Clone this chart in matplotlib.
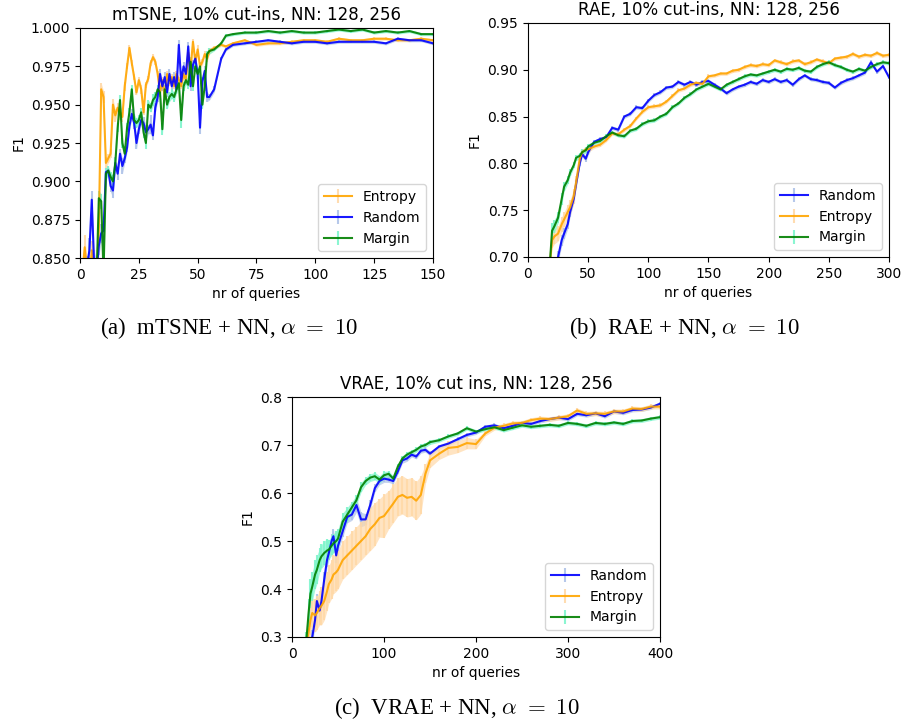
import numpy as np
import matplotlib
matplotlib.use('Agg')
import matplotlib.pyplot as plt

# ---- panel (a): mTSNE ----
x_a = list(range(1, 56)) + [57, 60, 62, 65, 70, 75, 80, 85, 90, 95, 100, 105, 110, 115, 120, 125, 130, 135, 140, 145, 150]
entropy_a = [0.840, 0.857, 0.842, 0.835, 0.855, 0.830, 0.835, 0.870, 0.960, 0.955,
             0.912, 0.915, 0.918, 0.950, 0.943, 0.948, 0.945, 0.942, 0.962, 0.975,
             0.987, 0.977, 0.968, 0.958, 0.966, 0.960, 0.945, 0.963, 0.967, 0.977,
             0.981, 0.978, 0.970, 0.958, 0.966, 0.955, 0.970, 0.964, 0.968, 0.962,
             0.970, 0.966, 0.962, 0.970, 0.966, 0.984, 0.974, 0.991, 0.978, 0.986,
             0.975, 0.978, 0.983, 0.980, 0.985,
             0.987, 0.989, 0.988, 0.990, 0.992, 0.989, 0.990, 0.990, 0.991, 0.992, 0.992,
             0.991, 0.993, 0.992, 0.992, 0.993, 0.993, 0.992, 0.992, 0.993, 0.992]
random_a = [0.835, 0.840, 0.845, 0.855, 0.888, 0.845, 0.840, 0.858, 0.866, 0.868,
            0.906, 0.907, 0.897, 0.894, 0.912, 0.905, 0.918, 0.910, 0.915, 0.922,
            0.936, 0.944, 0.938, 0.925, 0.934, 0.940, 0.938, 0.932, 0.934, 0.937,
            0.930, 0.948, 0.955, 0.970, 0.962, 0.968, 0.958, 0.970, 0.962, 0.968,
            0.960, 0.989, 0.965, 0.975, 0.970, 0.988, 0.962, 0.976, 0.980, 0.970,
            0.935, 0.965, 0.972, 0.955, 0.955,
            0.960, 0.980, 0.986, 0.989, 0.990, 0.991, 0.992, 0.991, 0.990, 0.991, 0.991,
            0.990, 0.991, 0.991, 0.991, 0.991, 0.990, 0.993, 0.992, 0.992, 0.990]
margin_a = [0.830, 0.835, 0.830, 0.835, 0.840, 0.830, 0.835, 0.889, 0.887, 0.840,
            0.905, 0.907, 0.903, 0.900, 0.912, 0.935, 0.953, 0.925, 0.918, 0.935,
            0.945, 0.960, 0.940, 0.938, 0.940, 0.945, 0.932, 0.925, 0.950, 0.948,
            0.953, 0.955, 0.960, 0.958, 0.934, 0.960, 0.950, 0.955, 0.957, 0.955,
            0.960, 0.964, 0.940, 0.962, 0.966, 0.963, 0.978, 0.962, 0.975, 0.970,
            0.975, 0.950, 0.962, 0.983, 0.985,
            0.986, 0.990, 0.995, 0.996, 0.997, 0.997, 0.998, 0.997, 0.998, 0.997, 0.997,
            0.998, 0.999, 0.998, 0.999, 0.997, 0.998, 0.997, 0.998, 0.996, 0.996]
entropy_a_err = [0.008, 0.008, 0.006, 0.006, 0.006, 0.006, 0.006, 0.010, 0.004, 0.004,
                 0.004, 0.003, 0.003, 0.004, 0.004, 0.003, 0.005, 0.003, 0.003, 0.002,
                 0.002, 0.002, 0.002, 0.002, 0.002, 0.003, 0.002, 0.002, 0.002, 0.002,
                 0.002, 0.002, 0.002, 0.002, 0.002, 0.002, 0.002, 0.002, 0.002, 0.002,
                 0.002, 0.002, 0.002, 0.002, 0.003, 0.002, 0.004, 0.002, 0.002, 0.003,
                 0.002, 0.002, 0.002, 0.002, 0.002,
                 0.001, 0.001, 0.001, 0.001, 0.001, 0.001, 0.001, 0.001, 0.001, 0.001, 0.001,
                 0.001, 0.001, 0.001, 0.001, 0.001, 0.001, 0.001, 0.001, 0.001, 0.001]
random_a_err = [0.006, 0.006, 0.006, 0.008, 0.006, 0.010, 0.008, 0.006, 0.006, 0.006,
                0.003, 0.003, 0.004, 0.005, 0.004, 0.004, 0.003, 0.005, 0.003, 0.003,
                0.003, 0.003, 0.004, 0.004, 0.003, 0.003, 0.004, 0.005, 0.003, 0.006,
                0.003, 0.003, 0.003, 0.003, 0.003, 0.003, 0.003, 0.003, 0.003, 0.003,
                0.003, 0.003, 0.003, 0.003, 0.003, 0.003, 0.003, 0.003, 0.003, 0.003,
                0.004, 0.003, 0.003, 0.003, 0.002,
                0.002, 0.001, 0.001, 0.001, 0.001, 0.001, 0.001, 0.001, 0.001, 0.001, 0.001,
                0.001, 0.001, 0.001, 0.001, 0.001, 0.001, 0.001, 0.001, 0.001, 0.001]
margin_a_err = [0.006, 0.006, 0.006, 0.006, 0.006, 0.006, 0.006, 0.005, 0.005, 0.008,
                0.004, 0.003, 0.003, 0.004, 0.003, 0.003, 0.003, 0.003, 0.003, 0.003,
                0.003, 0.003, 0.004, 0.003, 0.003, 0.003, 0.004, 0.004, 0.003, 0.003,
                0.004, 0.003, 0.003, 0.003, 0.004, 0.003, 0.003, 0.003, 0.003, 0.003,
                0.003, 0.003, 0.005, 0.003, 0.003, 0.003, 0.003, 0.003, 0.003, 0.003,
                0.003, 0.003, 0.003, 0.002, 0.002,
                0.001, 0.001, 0.001, 0.001, 0.001, 0.001, 0.001, 0.001, 0.001, 0.001, 0.001,
                0.001, 0.001, 0.001, 0.001, 0.001, 0.001, 0.001, 0.001, 0.001, 0.001]

# ---- panel (b): RAE ----
x_b = [18, 20, 22, 25, 28, 30, 33, 35, 38, 40, 43, 45, 48, 50] + list(range(55, 301, 5))
random_b = [0.650, 0.670, 0.680, 0.700, 0.718, 0.725, 0.735, 0.748, 0.762, 0.778, 0.800, 0.810, 0.805, 0.812,
            0.823, 0.826, 0.828, 0.838, 0.836, 0.850, 0.853, 0.860, 0.859, 0.867,
            0.873, 0.876, 0.881, 0.882, 0.887, 0.884, 0.887, 0.884, 0.887, 0.888,
            0.884, 0.880, 0.875, 0.879, 0.882, 0.884, 0.887, 0.885, 0.889, 0.887,
            0.890, 0.887, 0.889, 0.884, 0.890, 0.894, 0.890, 0.889, 0.887, 0.886,
            0.881, 0.886, 0.889, 0.891, 0.894, 0.897, 0.908, 0.898, 0.904, 0.892]
entropy_b = [0.690, 0.718, 0.722, 0.725, 0.735, 0.740, 0.748, 0.753, 0.765, 0.780, 0.805, 0.812, 0.815, 0.815,
             0.818, 0.820, 0.825, 0.832, 0.831, 0.836, 0.840, 0.848, 0.855, 0.860,
             0.861, 0.862, 0.866, 0.872, 0.878, 0.880, 0.884, 0.886, 0.885, 0.893,
             0.894, 0.896, 0.896, 0.899, 0.900, 0.903, 0.905, 0.904, 0.906, 0.905,
             0.910, 0.908, 0.906, 0.909, 0.910, 0.906, 0.908, 0.911, 0.909, 0.907,
             0.912, 0.913, 0.914, 0.917, 0.914, 0.916, 0.915, 0.918, 0.915, 0.916]
margin_b = [0.690, 0.728, 0.733, 0.742, 0.762, 0.775, 0.782, 0.790, 0.798, 0.806, 0.808, 0.812, 0.814, 0.818,
            0.822, 0.824, 0.829, 0.833, 0.830, 0.829, 0.835, 0.837, 0.842, 0.845,
            0.846, 0.850, 0.853, 0.860, 0.864, 0.870, 0.874, 0.879, 0.882, 0.885,
            0.882, 0.879, 0.884, 0.887, 0.890, 0.893, 0.895, 0.894, 0.896, 0.898,
            0.900, 0.898, 0.901, 0.900, 0.902, 0.899, 0.898, 0.903, 0.906, 0.908,
            0.905, 0.903, 0.900, 0.898, 0.901, 0.899, 0.903, 0.906, 0.908, 0.907]
random_b_err = [0.006, 0.006, 0.006, 0.006, 0.006, 0.006, 0.005, 0.005, 0.004, 0.004, 0.003, 0.003, 0.003, 0.003] + [0.002] * 50
entropy_b_err = [0.008, 0.008, 0.008, 0.008, 0.008, 0.008, 0.008, 0.008, 0.008, 0.006, 0.004, 0.003, 0.003, 0.003] + [0.002] * 50
margin_b_err = [0.008, 0.008, 0.007, 0.006, 0.006, 0.005, 0.004, 0.004, 0.003, 0.003, 0.003, 0.003, 0.003, 0.003] + [0.002] * 50

# ---- panel (c): VRAE ----
x_c = [15, 18, 20, 22, 25, 27, 30, 32, 35, 38, 40, 43, 45, 48, 50] + list(range(55, 151, 5)) + list(range(160, 401, 10))
random_c = [0.250, 0.270, 0.280, 0.300, 0.335, 0.375, 0.355, 0.375, 0.420, 0.460, 0.475, 0.500, 0.510, 0.470, 0.490,
            0.520, 0.550, 0.555, 0.575, 0.545, 0.545, 0.575, 0.610, 0.625, 0.630,
            0.628, 0.625, 0.645, 0.668, 0.672, 0.680, 0.676, 0.688, 0.690, 0.682,
            0.697, 0.703, 0.712, 0.721, 0.726, 0.738, 0.741, 0.735, 0.740, 0.746,
            0.744, 0.750, 0.754, 0.757, 0.754, 0.765, 0.762, 0.766, 0.760, 0.770,
            0.767, 0.773, 0.774, 0.778, 0.786]
entropy_c = [0.280, 0.310, 0.335, 0.350, 0.345, 0.350, 0.360, 0.365, 0.375, 0.395, 0.410, 0.420, 0.430, 0.435, 0.440,
             0.460, 0.470, 0.480, 0.490, 0.500, 0.510, 0.525, 0.535, 0.548, 0.552,
             0.565, 0.578, 0.592, 0.596, 0.590, 0.592, 0.584, 0.596, 0.640, 0.668,
             0.682, 0.694, 0.696, 0.704, 0.702, 0.724, 0.736, 0.740, 0.745, 0.746,
             0.752, 0.755, 0.754, 0.757, 0.760, 0.772, 0.765, 0.766, 0.765, 0.770,
             0.770, 0.776, 0.775, 0.780, 0.780]
margin_c = [0.280, 0.350, 0.390, 0.405, 0.430, 0.440, 0.460, 0.468, 0.475, 0.480, 0.482, 0.490, 0.495, 0.500, 0.505,
            0.540, 0.555, 0.570, 0.585, 0.612, 0.625, 0.632, 0.635, 0.628, 0.637,
            0.640, 0.630, 0.655, 0.672, 0.680, 0.685, 0.690, 0.697, 0.700, 0.706,
            0.710, 0.718, 0.724, 0.735, 0.728, 0.733, 0.737, 0.731, 0.736, 0.741,
            0.738, 0.740, 0.742, 0.740, 0.746, 0.744, 0.740, 0.746, 0.744, 0.747,
            0.744, 0.750, 0.751, 0.755, 0.758]
random_c_err = [0.015, 0.015, 0.015, 0.015, 0.015, 0.015, 0.015, 0.015, 0.015, 0.015, 0.015, 0.015, 0.015, 0.015, 0.012,
                0.012, 0.012, 0.012, 0.015, 0.015, 0.012, 0.010, 0.008, 0.008, 0.008,
                0.006, 0.006, 0.006, 0.006, 0.006, 0.005, 0.005, 0.005, 0.005, 0.005] + [0.004] * 25
entropy_c_err = [0.030, 0.030, 0.030, 0.030, 0.035, 0.035, 0.035, 0.040, 0.040, 0.040, 0.040, 0.040, 0.040, 0.040, 0.040,
                 0.040, 0.040, 0.040, 0.040, 0.040, 0.040, 0.045, 0.045, 0.040, 0.045,
                 0.040, 0.040, 0.040, 0.040, 0.040, 0.040, 0.040, 0.040, 0.020, 0.015,
                 0.012, 0.015, 0.012, 0.012, 0.010] + [0.005] * 20
margin_c_err = [0.030, 0.030, 0.030, 0.030, 0.030, 0.030, 0.025, 0.025, 0.025, 0.025, 0.020, 0.020, 0.020, 0.020, 0.020,
                0.018, 0.015, 0.012, 0.010, 0.010, 0.008, 0.008, 0.008, 0.008, 0.008,
                0.006, 0.006, 0.006, 0.006, 0.006, 0.005, 0.005, 0.005, 0.005, 0.005] + [0.004] * 25

line_col = {'Entropy': 'orange', 'Random': 'blue', 'Margin': 'green'}
err_col = {'Entropy': '#ffd9a8', 'Random': '#aec2e8', 'Margin': '#7ff5cc'}

plt.rcParams['font.size'] = 10
fig = plt.figure(figsize=(9.03, 7.27), dpi=100)

def draw_panel(ax, x, series, title, xlim, ylim, xticks, yticks, yfmt):
    for name, y, err in series:
        lo = np.array(y) - np.array(err)
        hi = np.array(y) + np.array(err)
        ax.fill_between(x, lo, hi, color=err_col[name], alpha=0.7, linewidth=0)
    for name, y, err in series:
        ax.errorbar(x, y, yerr=err, color=line_col[name], ecolor=err_col[name],
                    elinewidth=1.5, alpha=0.9, linewidth=1.5, label=name)
    ax.set_title(title, fontsize=12)
    ax.set_xlim(xlim)
    ax.set_ylim(ylim)
    ax.set_xticks(xticks)
    ax.set_yticks(yticks)
    ax.set_yticklabels([yfmt % v for v in yticks])
    ax.set_xlabel('nr of queries')
    ax.set_ylabel('F1')
    ax.legend(loc='lower right')

ax1 = fig.add_axes([0.0886, 0.6451, 0.3909, 0.3164])
draw_panel(ax1, x_a, [('Entropy', entropy_a, entropy_a_err),
                      ('Random', random_a, random_a_err),
                      ('Margin', margin_a, margin_a_err)],
           'mTSNE, 10% cut-ins, NN: 128, 256', [0, 150], [0.85, 1.0],
           [0, 25, 50, 75, 100, 125, 150],
           [0.85, 0.875, 0.9, 0.925, 0.95, 0.975, 1.0], '%.3f')

ax2 = fig.add_axes([0.5847, 0.6465, 0.3998, 0.3219])
draw_panel(ax2, x_b, [('Random', random_b, random_b_err),
                      ('Entropy', entropy_b, entropy_b_err),
                      ('Margin', margin_b, margin_b_err)],
           'RAE, 10% cut-ins, NN: 128, 256', [0, 300], [0.70, 0.95],
           [0, 50, 100, 150, 200, 250, 300],
           [0.70, 0.75, 0.80, 0.85, 0.90, 0.95], '%.2f')

ax3 = fig.add_axes([0.3234, 0.1238, 0.4075, 0.3301])
draw_panel(ax3, x_c, [('Random', random_c, random_c_err),
                      ('Entropy', entropy_c, entropy_c_err),
                      ('Margin', margin_c, margin_c_err)],
           'VRAE, 10% cut ins, NN: 128, 256', [0, 400], [0.3, 0.8],
           [0, 100, 200, 300, 400],
           [0.3, 0.4, 0.5, 0.6, 0.7, 0.8], '%.1f')

plt.rcParams['mathtext.fontset'] = 'cm'
cap = dict(fontsize=16.5, family='Liberation Serif', ha='center', va='center')
fig.text(229 / 903, 1 - 328 / 727, r'(a)  mTSNE + NN, $\alpha\ =\ 10$', **cap)
fig.text(684 / 903, 1 - 328 / 727, r'(b)  RAE + NN, $\alpha\ =\ 10$', **cap)
fig.text(457 / 903, 1 - 708 / 727, r'(c)  VRAE + NN, $\alpha\ =\ 10$', **cap)

fig.savefig('out.png', dpi=100)
